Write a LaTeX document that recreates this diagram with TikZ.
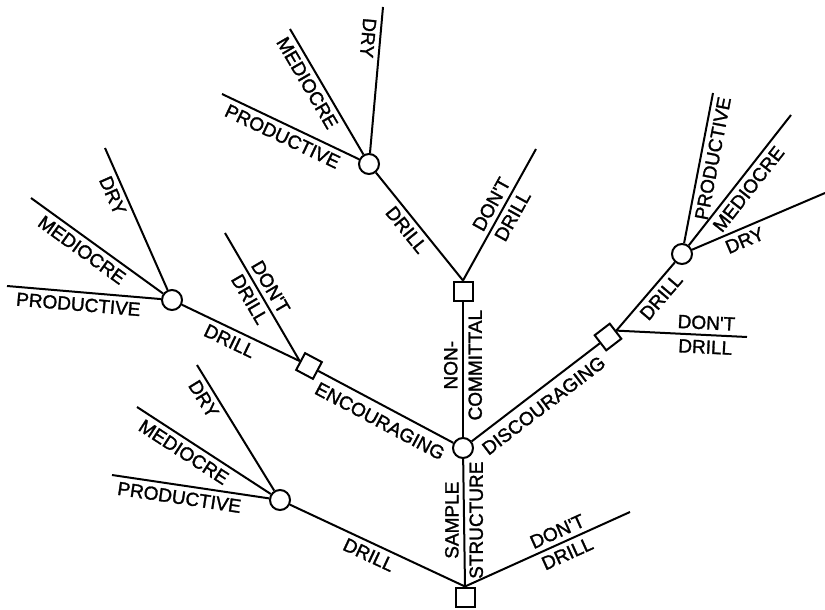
\documentclass[tikz,border=0pt]{standalone}
\usepackage{fontspec}
\newfontfamily\labfont[FakeBold=1.5]{Liberation Sans}
\begin{document}
\begin{tikzpicture}[x=1pt,y=-1pt,
  line width=2pt,
  chance/.style={circle,draw,fill=white,minimum size=20pt,inner sep=0pt},
  decision/.style={rectangle,draw,fill=white,minimum size=19pt,inner sep=0pt},
  labtext/.style={font=\labfont\fontsize{19}{20}\selectfont,inner sep=4.5pt},
  lab/.style={labtext,sloped},
  widelab/.style={lab,inner sep=7.5pt},
  leftlab/.style={labtext,rotate=90,anchor=south},
  rightlab/.style={labtext,rotate=90,anchor=north}]
\useasboundingbox (0,0) rectangle (825,610);
% decision and chance nodes
\node[decision] (R) at (465,597) {};
\node[chance] (C0) at (463,448) {};
\node[decision] (SNC) at (463,291) {};
\node[decision,rotate=-28] (SENC) at (309,366) {};
\node[decision,rotate=37.5] (SDIS) at (608,337) {};
\node[chance] (CBL) at (280,500) {};
\node[chance] (CL) at (172,300) {};
\node[chance] (CT) at (369,164) {};
\node[chance] (CR) at (682,254) {};
% leaf ends
\coordinate (bP) at (112,475);
\coordinate (bM) at (137,407);
\coordinate (bD) at (197,365);
\coordinate (rootDD) at (630,512);
\coordinate (lP) at (7,286);
\coordinate (lM) at (31,198);
\coordinate (lD) at (105,148);
\coordinate (encDD) at (225,233);
\coordinate (tP) at (222,94);
\coordinate (tM) at (290,29);
\coordinate (tD) at (383,7);
\coordinate (ncDD) at (536,149);
\coordinate (rP) at (713,93);
\coordinate (rM) at (791,115);
\coordinate (rD) at (825,193);
\coordinate (disDD) at (747,337);
% root
\draw (R.north) -- node[leftlab,pos=0.52] {SAMPLE} node[rightlab,pos=0.52] {STRUCTURE} (C0);
\draw (CBL) -- node[lab,below,pos=0.48] {DRILL} (R.north);
\draw (R.north) -- node[lab,above,pos=0.59] {DON'T} node[lab,below,pos=0.59] {DRILL} (rootDD);
% bottom-left chance
\draw (bP) -- node[lab,below,pos=0.44] {PRODUCTIVE} (CBL);
\draw (bM) -- node[lab,below,pos=0.40] {MEDIOCRE} (CBL);
\draw (bD) -- node[lab,below,pos=0.22] {DRY} (CBL);
% encouraging
\draw (SENC.east) -- node[widelab,below,pos=0.51] {ENCOURAGING} (C0);
\draw (CL) -- node[lab,below,pos=0.45] {DRILL} (SENC.west);
\draw (encDD) -- node[lab,above,pos=0.47] {DON'T} node[lab,below,pos=0.47] {DRILL} (SENC.west);
\draw (lP) -- node[lab,below,pos=0.47] {PRODUCTIVE} (CL);
\draw (lM) -- node[lab,below,pos=0.44] {MEDIOCRE} (CL);
\draw (lD) -- node[lab,below,pos=0.30] {DRY} (CL);
% non-committal
\draw (C0) -- node[leftlab,pos=0.53] {NON-} node[rightlab,pos=0.53] {COMMITTAL} (SNC);
\draw (CT) -- node[lab,below,pos=0.46] {DRILL} (SNC.north);
\draw (SNC.north) -- node[lab,above,pos=0.535] {DON'T} node[lab,below,pos=0.535] {DRILL} (ncDD);
\draw (tP) -- node[lab,below,pos=0.48] {PRODUCTIVE} (CT);
\draw (tM) -- node[lab,below,pos=0.38] {MEDIOCRE} (CT);
\draw (tD) -- node[lab,below,pos=0.22,allow upside down] {DRY} (CT);
% discouraging
\draw (C0) -- node[widelab,below,pos=0.49] {DISCOURAGING} (SDIS.west);
\draw (SDIS.east) -- node[lab,below,pos=0.61] {DRILL} (CR);
\draw (SDIS.east) -- node[lab,above,pos=0.685] {DON'T} node[lab,below,pos=0.685] {DRILL} (disDD);
\draw (CR) -- node[lab,below,pos=0.58] {PRODUCTIVE} (rP);
\draw (CR) -- node[lab,below,pos=0.49] {MEDIOCRE} (rM);
\draw (CR) -- node[lab,below,pos=0.36] {DRY} (rD);
\end{tikzpicture}
\end{document}
